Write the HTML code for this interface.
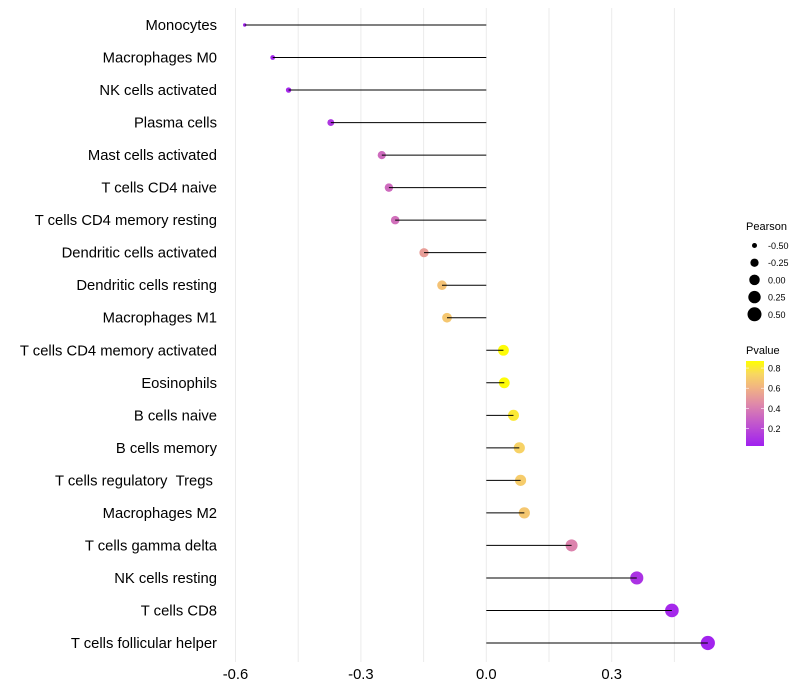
<!DOCTYPE html>
<html><head><meta charset="utf-8"><style>
body{margin:0;background:#fff}
svg{display:block;font-family:"Liberation Sans",sans-serif}
</style></head><body>
<svg id="chart" width="800" height="700">
<defs>
<linearGradient id="pg" x1="0" y1="1" x2="0" y2="0">
<stop offset="0" stop-color="#a020f0"/>
<stop offset="0.3" stop-color="#c65ec8"/>
<stop offset="0.5" stop-color="#e08aa8"/>
<stop offset="0.7" stop-color="#f2b680"/>
<stop offset="0.85" stop-color="#f8d860"/>
<stop offset="1" stop-color="#ffff00"/>
</linearGradient>
</defs>
<g id="grid"></g>
<g id="marks"></g>
<g id="ylabels"></g>
<g id="xlabels"></g>
<g id="sizeLegend">
<text x="746" y="230" font-size="11" fill="#000">Pearson</text>
</g>
<g id="colLegend">
<text x="746" y="354" font-size="11" fill="#000">Pvalue</text>
<rect x="746" y="361" width="18" height="85" fill="url(#pg)"/>
</g>
</svg>
<script>
const categories=["Monocytes","Macrophages M0","NK cells activated","Plasma cells","Mast cells activated","T cells CD4 naive","T cells CD4 memory resting","Dendritic cells activated","Dendritic cells resting","Macrophages M1","T cells CD4 memory activated","Eosinophils","B cells naive","B cells memory","T cells regulatory\u00a0\u00a0Tregs\u00a0","Macrophages M2","T cells gamma delta","NK cells resting","T cells CD8","T cells follicular helper"];
const pearson=[-0.578,-0.511,-0.473,-0.372,-0.25,-0.233,-0.218,-0.149,-0.106,-0.094,0.041,0.043,0.065,0.079,0.082,0.091,0.204,0.36,0.444,0.53];
const pvalue=[0.04,0.04,0.06,0.12,0.33,0.33,0.35,0.52,0.66,0.68,0.86,0.86,0.8,0.72,0.7,0.68,0.42,0.1,0.06,0.04];
const xTicks=[-0.6,-0.3,0.0,0.3];
const xTickLabels=["-0.6","-0.3","0.0","0.3"];
const gridVals=[-0.6,-0.45,-0.3,-0.15,0,0.15,0.3,0.45];
const sizeBreaks=[-0.5,-0.25,0,0.25,0.5];
const sizeLabels=["-0.50","-0.25","0.00","0.25","0.50"];
const colBreaks=[0.8,0.6,0.4,0.2];

const NS="http://www.w3.org/2000/svg";
const x=v=>486.3+v*(611.7-486.3)/0.3;
const y=i=>25+i*(643-25)/19;
const pMin=0.027,pMax=0.87;
const cy=p=>446-(p-pMin)/(pMax-pMin)*85;
const r=v=>Math.sqrt(Math.max(2,27.6+42.75*v));
const stops=[[0,[160,32,240]],[0.3,[198,94,200]],[0.5,[224,138,168]],[0.7,[242,182,128]],[0.85,[248,216,96]],[1,[255,255,0]]];
function col(p){let t=Math.max(0,Math.min(1,(p-pMin)/(pMax-pMin)));for(let k=1;k<stops.length;k++){if(t<=stops[k][0]){const a=stops[k-1],b=stops[k];const f=(t-a[0])/(b[0]-a[0]);const c=a[1].map((v,j)=>Math.round(v+(b[1][j]-v)*f));return`rgb(${c})`;}}return"rgb(255,255,0)";}
function mk(tag,attrs,parent){const e=document.createElementNS(NS,tag);for(const k in attrs)e.setAttribute(k,attrs[k]);parent.appendChild(e);return e;}
const grid=document.getElementById('grid'),marks=document.getElementById('marks'),yl=document.getElementById('ylabels'),xl=document.getElementById('xlabels');
gridVals.forEach(v=>{const l=mk('line',{x1:x(v),x2:x(v),y1:8,y2:662,stroke:'#ebebeb','stroke-width':1},grid);

});
categories.forEach((c,i)=>{
const d=mk('circle',{cx:x(pearson[i]),cy:y(i),r:r(pearson[i]),fill:col(pvalue[i])},marks);


const l=mk('line',{x1:x(0),x2:x(pearson[i]),y1:y(i),y2:y(i),stroke:'#000','stroke-width':1},marks);


const t=mk('text',{x:217,y:y(i)+5,'text-anchor':'end','font-size':14.8,fill:'#000'},yl);t.textContent=c;

});
xTicks.forEach((v,i)=>{const t=mk('text',{x:x(v),y:679,'text-anchor':'middle','font-size':14.8,fill:'#000'},xl);t.textContent=xTickLabels[i];

});
const sl=document.getElementById('sizeLegend');
sizeBreaks.forEach((v,i)=>{const yy=245.5+i*17.2;
const c=mk('circle',{cx:754.5,cy:yy,r:r(v),fill:'#000'},sl);


const t=mk('text',{x:768,y:yy+3.5,'font-size':9,fill:'#000'},sl);t.textContent=sizeLabels[i];

});
const cl=document.getElementById('colLegend');
colBreaks.forEach(v=>{const yy=cy(v);
mk('line',{x1:746,x2:749,y1:yy,y2:yy,stroke:'#fff','stroke-width':0.6},cl);
mk('line',{x1:761,x2:764,y1:yy,y2:yy,stroke:'#fff','stroke-width':0.6},cl);
const t=mk('text',{x:768,y:yy+3.5,'font-size':9,fill:'#000'},cl);t.textContent=v.toFixed(1);

});
</script>
</body></html>
